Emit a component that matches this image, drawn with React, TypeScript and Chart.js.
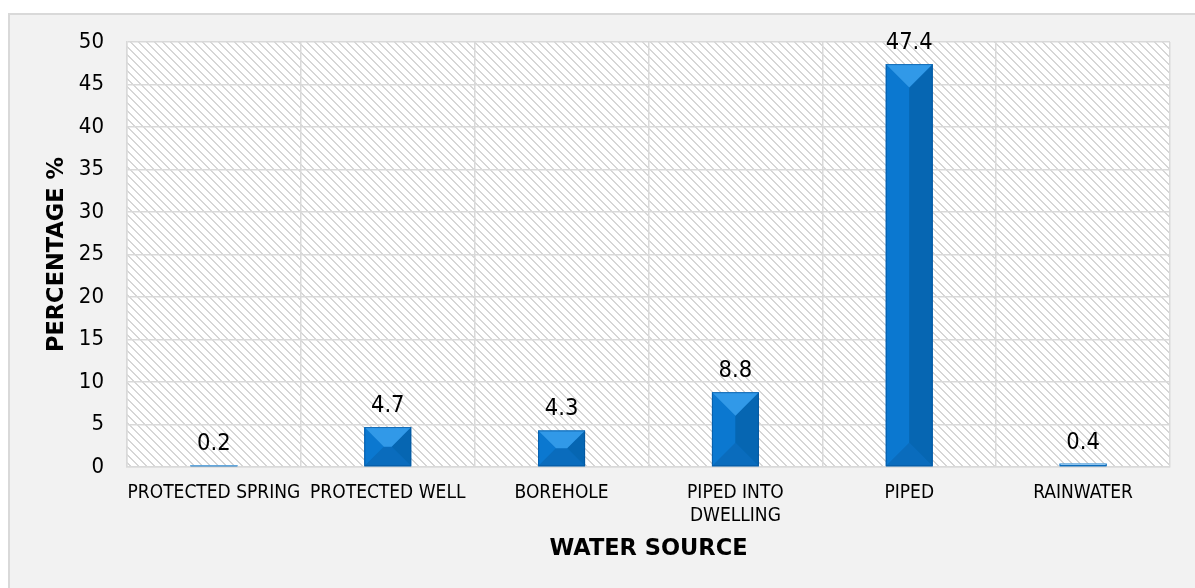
import React, { useEffect, useRef } from "react";
import { Chart, registerables } from "chart.js";

Chart.register(...registerables);

const categories: (string | string[])[] = [
  "PROTECTED SPRING",
  "PROTECTED WELL",
  "BOREHOLE",
  ["PIPED INTO", "DWELLING"],
  "PIPED",
  "RAINWATER",
];
const percentages = [0.2, 4.7, 4.3, 8.8, 47.4, 0.4];
const yTicks = [0, 5, 10, 15, 20, 25, 30, 35, 40, 45, 50];

const FONT = "'DejaVu Sans Condensed', 'DejaVu Sans', sans-serif";
const TITLE_FONT = "'DejaVu Sans', sans-serif";
const TEXT = "#000000";

function makeHatch(): CanvasPattern | string {
  const tile = document.createElement("canvas");
  tile.width = 8;
  tile.height = 8;
  const c = tile.getContext("2d");
  if (!c) return "#ffffff";
  c.fillStyle = "#ffffff";
  c.fillRect(0, 0, 8, 8);
  c.fillStyle = "#d6d6d6";
  for (let y = 0; y < 8; y++) {
    for (let x = 0; x < 8; x++) {
      const k = (((x - y) % 8) + 8) % 8;
      if (k === 0 || k === 1) c.fillRect(x, y, 1, 1);
    }
  }
  const p = c.createPattern(tile, "repeat");
  return p || "#ffffff";
}

// Page frame + hatched plot background
const backdrop = {
  id: "backdrop",
  beforeDraw(chart: any) {
    const { ctx, width, height, chartArea } = chart;
    ctx.save();
    ctx.fillStyle = "#ffffff";
    ctx.fillRect(0, 0, width, height);
    ctx.fillStyle = "#f2f2f2";
    ctx.fillRect(8, 13, width - 8, height - 13);
    ctx.strokeStyle = "#d9d9d9";
    ctx.lineWidth = 2;
    ctx.beginPath();
    ctx.moveTo(9, height);
    ctx.lineTo(9, 14);
    ctx.lineTo(width, 14);
    ctx.stroke();
    ctx.fillStyle = makeHatch();
    ctx.fillRect(
      chartArea.left,
      chartArea.top,
      chartArea.right - chartArea.left,
      chartArea.bottom - chartArea.top
    );
    ctx.restore();
  },
};

// Bevelled bar faces and value labels
const bevelBars = {
  id: "bevelBars",
  afterDatasetsDraw(chart: any) {
    const { ctx } = chart;
    const meta = chart.getDatasetMeta(0);
    const values = chart.data.datasets[0].data as number[];
    ctx.save();
    meta.data.forEach((bar: any, i: number) => {
      const { x, y, base, width } = bar.getProps(["x", "y", "base", "width"], true);
      const l = x - width / 2;
      const r = x + width / 2;
      const t = Math.min(y, base);
      const b = Math.max(y, base);
      const h = b - t;
      const d = Math.min(width / 2, h / 2);
      const il = l + d;
      const ir = r - d;
      const it = t + d;
      const ib = b - d;
      const face = (pts: number[][], color: string) => {
        ctx.beginPath();
        ctx.moveTo(pts[0][0], pts[0][1]);
        for (let k = 1; k < pts.length; k++) ctx.lineTo(pts[k][0], pts[k][1]);
        ctx.closePath();
        ctx.fillStyle = color;
        ctx.fill();
      };
      face([[il, it], [ir, it], [ir, ib], [il, ib]], "#0a72c4");
      face([[l, t], [il, it], [il, ib], [l, b]], "#0b78d0");
      face([[r, t], [ir, it], [ir, ib], [r, b]], "#0666b2");
      face([[l, b], [il, ib], [ir, ib], [r, b]], "#0a6cbd");
      face([[l, t], [r, t], [ir, it], [il, it]], h < 3 ? "#8fc3ec" : "#3199e8");
      ctx.strokeStyle = "rgba(4, 80, 150, 0.6)";
      ctx.lineWidth = 1;
      if (h > 3) ctx.strokeRect(l + 0.5, t + 0.5, width - 1, h - 1);

      ctx.fillStyle = TEXT;
      ctx.font = `23.5px ${FONT}`;
      ctx.textAlign = "center";
      ctx.textBaseline = "alphabetic";
      ctx.fillText(String(values[i]), x, t - 15);
    });
    ctx.restore();
  },
};

export default function App() {
  const canvasRef = useRef<HTMLCanvasElement | null>(null);

  useEffect(() => {
    const canvas = canvasRef.current;
    if (!canvas) return;
    const chart = new Chart(canvas, {
      type: "bar",
      data: {
        labels: categories,
        datasets: [
          {
            data: percentages,
            backgroundColor: "#0a72c4",
            borderWidth: 0,
            barPercentage: 0.54,
            categoryPercentage: 0.5,
          },
        ],
      },
      options: {
        responsive: false,
        animation: false,
        layout: { padding: { left: 45, right: 25, top: 42, bottom: 0 } },
        plugins: {
          legend: { display: false },
          tooltip: { enabled: false },
        },
        scales: {
          x: {
            afterFit(scale: any) {
              scale.height = 121;
            },
            grid: {
              display: true,
              color: "#d9d9d9",
              lineWidth: 1.5,
              drawTicks: false,
              offset: true,
            },
            border: { display: true, color: "#d9d9d9", width: 1.5 },
            ticks: {
              color: TEXT,
              font: { family: FONT, size: 19, lineHeight: 23 / 19 },
              padding: 15,
              maxRotation: 0,
              autoSkip: false,
            },
            title: {
              display: true,
              text: "WATER SOURCE",
              color: TEXT,
              font: { family: TITLE_FONT, size: 22.5, weight: "bold", lineHeight: 24 / 22.5 },
              padding: { top: 0, bottom: 27 },
            },
          },
          y: {
            min: 0,
            max: 50,
            afterFit(scale: any) {
              scale.width = 82;
            },
            afterBuildTicks(scale: any) {
              scale.ticks = yTicks.map((v) => ({ value: v }));
            },
            grid: {
              color: "#d9d9d9",
              lineWidth: 1.5,
              drawTicks: false,
            },
            border: { display: true, color: "#d9d9d9", width: 1.5 },
            ticks: {
              color: TEXT,
              font: { family: FONT, size: 22 },
              padding: 23,
            },
            title: {
              display: true,
              text: "PERCENTAGE %",
              color: TEXT,
              font: { family: TITLE_FONT, size: 22.5, weight: "bold", lineHeight: 24 / 22.5 },
              padding: { top: 0, bottom: 0 },
            },
          },
        },
      },
      plugins: [backdrop, bevelBars],
    });
    return () => chart.destroy();
  }, []);

  return (
    <div style={{ position: "fixed", left: 0, top: 0, width: 1195, height: 588 }}>
      <canvas ref={canvasRef} width={1195} height={588} />
    </div>
  );
}
